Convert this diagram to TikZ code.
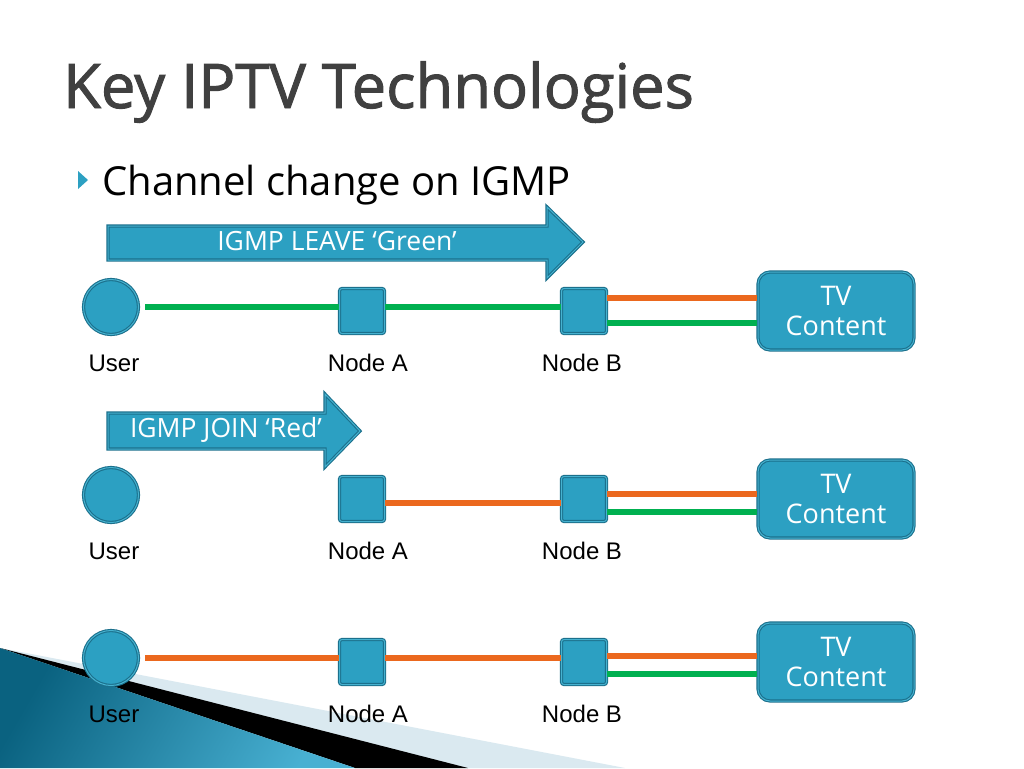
\documentclass[tikz,border=0pt]{standalone}
\usepackage{fontspec}
\setmainfont{Open Sans}
\newfontfamily\arialf{Liberation Sans}
\newfontfamily\titlef[FakeBold=1.6]{Open Sans}
\definecolor{tealf}{RGB}{44,160,194}
\definecolor{teald}{RGB}{27,112,140}
\definecolor{tealin}{RGB}{70,178,208}
\definecolor{lgreen}{RGB}{0,176,80}
\definecolor{lorange}{RGB}{235,104,30}
\definecolor{titlegray}{RGB}{64,64,64}
\definecolor{decodark}{RGB}{10,98,128}
\definecolor{decolight}{RGB}{72,176,210}
\definecolor{decopale}{RGB}{218,233,240}
\begin{document}
\begin{tikzpicture}[x=1pt,y=-1pt,
  boxbase/.style={fill=tealf, draw=teald, line width=1.1pt, double=tealin, double distance=1pt},
  user/.style={boxbase, circle, minimum size=55, inner sep=0pt},
  sq/.style={boxbase, rectangle, rounded corners=2.5, minimum size=45, inner sep=0pt},
  tv/.style={boxbase, rectangle, rounded corners=12, minimum width=156, minimum height=78, inner sep=0pt,
    align=center, text=white, font=\fontsize{27}{30}\selectfont},
  blockarrow/.style={boxbase, line join=miter},
  arrowtext/.style={text=white, font=\fontsize{26.5}{28}\selectfont, inner sep=0pt},
  lbl/.style={anchor=base, font=\arialf\fontsize{24}{28}\selectfont, inner sep=0pt},
  gline/.style={draw=lgreen, line width=6pt},
  oline/.style={draw=lorange, line width=6pt}
]
\useasboundingbox (0,0) rectangle (1024,768);
\fill[white] (0,0) rectangle (1024,768);

% bottom-left decoration
\fill[decopale] (0,648) -- (625,768) -- (465,768) -- cycle;
\fill[black] (0,648) -- (468,768) -- (355,768) -- cycle;
\shade[left color=decodark, right color=decolight, shading angle=60] (0,648) -- (355,768) -- (0,768) -- cycle;

% title
\node[anchor=base west, text=titlegray, inner sep=0pt, font=\titlef\fontsize{61.5}{70}\selectfont] (title) at (63,108) {Key IPTV Technologies};

% bullet
\fill[tealf] (78,171) -- (88,180) -- (78,189) -- cycle;
\node[anchor=base west, inner sep=0pt, font=\fontsize{40}{46}\selectfont] (bullet) at (102,195) {Channel change on IGMP};

% block arrows
\draw[blockarrow] (108,226) -- (547,226) -- (547,207) -- (583,242) -- (547,278) -- (547,260) -- (108,260) -- cycle;
\node[arrowtext] (leave) at (337,241) {IGMP LEAVE ‘Green’};
\draw[blockarrow] (108,413) -- (325,413) -- (325,394) -- (360,431) -- (325,467) -- (325,449) -- (108,449) -- cycle;
\node[arrowtext] (join) at (226,430) {IGMP JOIN ‘Red’};

% row 1
\node[user] (u1) at (111,307) {};
\node[sq] (a1) at (362,311) {};
\node[sq] (b1) at (584,311) {};
\node[tv] (t1) at (836,311) {TV\\Content};
\coordinate (g1s) at (145,307);
\draw[gline] (g1s) -- (g1s -| a1.west);
\draw[gline] (a1.east |- g1s) -- (g1s -| b1.west);
\draw[oline] (b1.east |- 0,298) -- (t1.west |- 0,298);
\draw[gline] (b1.east |- 0,323) -- (t1.west |- 0,323);
\node[lbl] (lu1) at (114,371) {User};
\node[lbl] (la1) at (368,371) {Node A};
\node[lbl] (lb1) at (582,371) {Node B};

% row 2
\node[user] (u2) at (111,495) {};
\node[sq] (a2) at (362,499) {};
\node[sq] (b2) at (584,499) {};
\node[tv] (t2) at (836,499) {TV\\Content};
\draw[oline] (a2.east |- 0,503) -- (b2.west |- 0,503);
\draw[oline] (b2.east |- 0,494) -- (t2.west |- 0,494);
\draw[gline] (b2.east |- 0,512) -- (t2.west |- 0,512);
\node[lbl] (lu2) at (114,559) {User};
\node[lbl] (la2) at (368,559) {Node A};
\node[lbl] (lb2) at (582,559) {Node B};

% row 3
\node[user] (u3) at (111,658) {};
\node[sq] (a3) at (362,662) {};
\node[sq] (b3) at (584,662) {};
\node[tv] (t3) at (836,662) {TV\\Content};
\coordinate (o3s) at (145,658);
\draw[oline] (o3s) -- (o3s -| a3.west);
\draw[oline] (a3.east |- o3s) -- (o3s -| b3.west);
\draw[oline] (b3.east |- 0,656) -- (t3.west |- 0,656);
\draw[gline] (b3.east |- 0,674) -- (t3.west |- 0,674);
\node[lbl] (lu3) at (114,722) {User};
\node[lbl] (la3) at (368,722) {Node A};
\node[lbl] (lb3) at (582,722) {Node B};
\end{tikzpicture}
\end{document}
